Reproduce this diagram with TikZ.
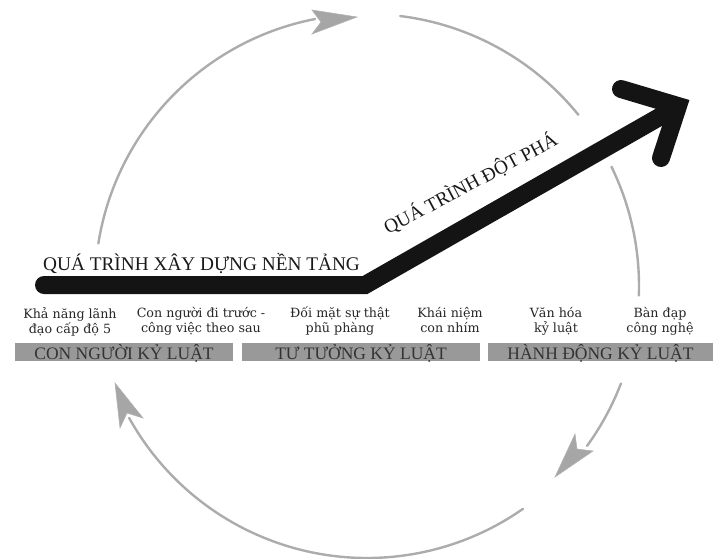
\documentclass[tikz,border=0pt]{standalone}
\usepackage{fontspec}
\setmainfont{Liberation Serif}
\newfontfamily\labelfont{DejaVu Serif}
\begin{document}
\begin{tikzpicture}[x=1pt,y=-1pt,
  cyc/.style={draw=gray!65, line width=2.4pt, line cap=round},
  tiphead/.style={fill=gray!70, draw=gray!60, line width=0.6pt, line join=miter},
  bigarrow/.style={draw=black!92, line width=18pt, line cap=round, line join=miter},
  lbl/.style={font=\labelfont\fontsize{12.7}{15}\selectfont, align=center, anchor=north, inner sep=0pt, text=black!85},
  barbox/.style={fill=black!40, draw=none, inner sep=0pt, minimum height=18pt, text height=15pt, text depth=0pt, font=\fontsize{17.5}{18}\selectfont, text=black!80},
  ttl/.style={font=\fontsize{19.3}{20}\selectfont, inner sep=0pt, anchor=base west, text=black!90}]
\useasboundingbox (0,0) rectangle (715,558);
\coordinate (c) at (367,286);
% cycle arcs
\draw[cyc] ([shift={(189:272)}]c) arc[start angle=189, end angle=259, radius=272];
\draw[cyc] ([shift={(277:272)}]c) arc[start angle=277, end angle=321, radius=272];
\draw[cyc] ([shift={(334:272)}]c) arc[start angle=334, end angle=362, radius=272];
\draw[cyc] ([shift={(21:272)}]c) arc[start angle=21, end angle=36, radius=272];
\draw[cyc] ([shift={(55:272)}]c) arc[start angle=55, end angle=151, radius=272];
% arrowheads of the cycle
\filldraw[tiphead] (357,17) -- (312,10) -- (321,22) -- (312,34) -- cycle;
\filldraw[tiphead] (555,477) -- (575,434) -- (577,449) -- (593,451) -- cycle;
\filldraw[tiphead] (115,383) -- (120,428) -- (127,413) -- (143,418) -- cycle;
% big black arrow
\draw[bigarrow] (44,285) -- (365,285) -- (677,107);
\draw[bigarrow] (621,89) -- (678,106) -- (661,158);
% titles
\node[ttl] (t1) at (43,270) {QUÁ TRÌNH XÂY DỰNG NỀN TẢNG};
\node[ttl, rotate=28] (t2) at (388,235) {QUÁ TRÌNH ĐỘT PHÁ};
% labels
\node[lbl] (l1) at (70,307) {Khả năng lãnh\\đạo cấp độ 5};
\node[lbl] (l2) at (201,307) {Con người đi trước -\\công việc theo sau};
\node[lbl] (l3) at (340,307) {Đối mặt sự thật\\phũ phàng};
\node[lbl] (l4) at (450,307) {Khái niệm\\con nhím};
\node[lbl] (l5) at (556,307) {Văn hóa\\kỷ luật};
\node[lbl] (l6) at (660,307) {Bàn đạp\\công nghệ};
% bars
\node[barbox, minimum width=218pt] (b1) at (124,352) {CON NGƯỜI KỶ LUẬT};
\node[barbox, minimum width=238pt] (b2) at (361,352) {TƯ TƯỞNG KỶ LUẬT};
\node[barbox, minimum width=225pt] (b3) at (600.5,352) {HÀNH ĐỘNG KỶ LUẬT};
\end{tikzpicture}
\end{document}
